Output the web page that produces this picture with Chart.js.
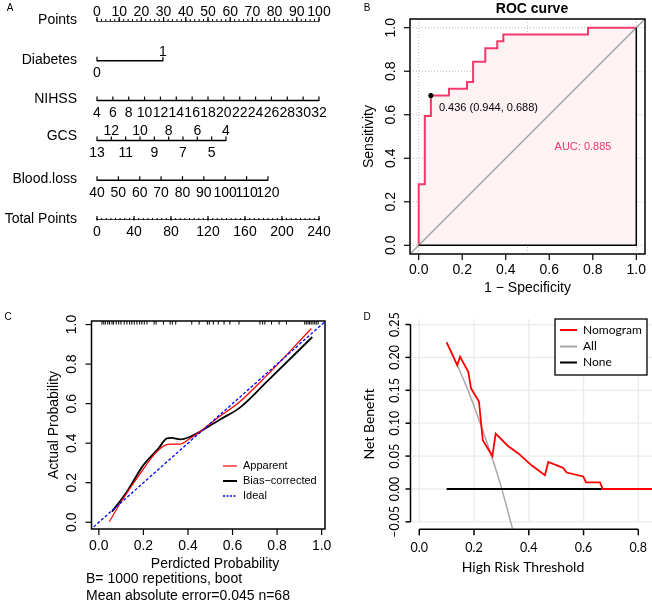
<!DOCTYPE html>
<html>
<head>
<meta charset="utf-8">
<title>Nomogram, ROC, calibration and decision curve</title>
<script src="https://cdn.jsdelivr.net/npm/chart.js@4.4.1/dist/chart.umd.min.js"></script>
<style>
  body { margin: 0; background: #fff; }
  #fig { position: relative; width: 652px; height: 607px; }
  #fig canvas { position: absolute; left: 0; top: 0; }
</style>
</head>
<body>
<div id="fig">
  <canvas id="cA" width="652" height="607"></canvas>
  <canvas id="cB" width="652" height="607"></canvas>
  <canvas id="cC" width="652" height="607"></canvas>
  <canvas id="cD" width="652" height="607"></canvas>
</div>
<script>
// ---------- A: nomogram ----------
var pointsTicks = [0, 10, 20, 30, 40, 50, 60, 70, 80, 90, 100];
var diabetesLevels = ['0', '1'];
var diabetesPoints = [0, 29.7];
var nihssTicks = [4, 6, 8, 10, 12, 14, 16, 18, 20, 22, 24, 26, 28, 30, 32];
var nihssPoints = [0, 100];
var gcsTicks = [13, 12, 11, 10, 9, 8, 7, 6, 5, 4];
var gcsPoints = [0, 58.1];
var bloodTicks = [40, 50, 60, 70, 80, 90, 100, 110, 120];
var bloodPoints = [0, 77];
var totalTicks = [0, 40, 80, 120, 160, 200, 240];
var totalPoints = [0, 100];

// ---------- B: ROC ----------
var rocFpr = [0, 0, 0.028, 0.028, 0.056, 0.056, 0.139, 0.139, 0.222, 0.222, 0.25, 0.25, 0.306, 0.306, 0.361, 0.361, 0.389, 0.389, 0.778, 0.778, 1];
var rocTpr = [0, 0.281, 0.281, 0.594, 0.594, 0.688, 0.688, 0.719, 0.719, 0.75, 0.75, 0.844, 0.844, 0.906, 0.906, 0.938, 0.938, 0.969, 0.969, 1, 1];
var bestThreshold = 0.436, bestSpec = 0.944, bestSens = 0.688;
var rocAuc = 0.885;

// ---------- C: calibration ----------
var apparentX = [0.047, 0.096, 0.186, 0.26, 0.298, 0.327, 0.365, 0.402, 0.454, 0.529, 0.63, 0.75, 0.954];
var apparentY = [0.003, 0.096, 0.247, 0.357, 0.39, 0.395, 0.395, 0.419, 0.458, 0.525, 0.607, 0.738, 0.98];
var biasX = [0.059, 0.126, 0.2, 0.268, 0.305, 0.327, 0.365, 0.409, 0.454, 0.544, 0.633, 0.753, 0.958];
var biasY = [0.054, 0.155, 0.289, 0.374, 0.424, 0.427, 0.419, 0.432, 0.458, 0.52, 0.58, 0.71, 0.937];
var rugX = [0.014, 0.022, 0.029, 0.040, 0.048, 0.059, 0.066, 0.078, 0.089, 0.099, 0.114, 0.126, 0.138, 0.148,
  0.159, 0.171, 0.183, 0.193, 0.204, 0.216, 0.248, 0.257, 0.290, 0.320, 0.330, 0.345, 0.417, 0.450, 0.487,
  0.496, 0.514, 0.536, 0.562, 0.588, 0.629, 0.723, 0.735, 0.745, 0.775, 0.809, 0.842, 0.924, 0.931, 0.939,
  0.946, 0.953, 0.961, 0.969, 0.976, 0.984];

// ---------- D: decision curve ----------
var nomoThr = [0.10, 0.139, 0.149, 0.179, 0.189, 0.218, 0.232, 0.267, 0.279, 0.325, 0.362, 0.41, 0.459, 0.471, 0.514, 0.526, 0.538, 0.599, 0.609, 0.66, 0.67, 0.99];
var nomoNB = [0.223, 0.188, 0.201, 0.178, 0.153, 0.133, 0.074, 0.050, 0.084, 0.065, 0.054, 0.036, 0.021, 0.041, 0.034, 0.032, 0.025, 0.019, 0.010, 0.010, 0, 0];
var allThr = [0.10, 0.139, 0.18, 0.22, 0.26, 0.30, 0.341];
var allNB = [0.223, 0.188, 0.148, 0.103, 0.055, 0.002, -0.061];
var noneThr = [0.10, 0.666];
var noneNB = [0, 0];

var AR = '"Liberation Sans", Arial, Helvetica, sans-serif';
var MY = 'Lato, "Open Sans", sans-serif';

function xy(xs, ys) { return xs.map(function (v, i) { return { x: v, y: ys[i] }; }); }
function seg(c, x1, y1, x2, y2, col, w, dash) {
  c.save(); c.strokeStyle = col; c.lineWidth = w; c.setLineDash(dash || []);
  c.beginPath(); c.moveTo(x1, y1); c.lineTo(x2, y2); c.stroke(); c.restore();
}
function txt(c, s, x, y, font, col, align, rot) {
  c.save(); c.translate(x, y); if (rot) c.rotate(rot);
  c.font = font; c.fillStyle = col || '#000'; c.textAlign = align || 'center'; c.textBaseline = 'middle';
  c.fillText(s, 0, 0); c.restore();
}
function opts(pad, xr, yr, rev) {
  return {
    responsive: false, animation: false, events: [],
    layout: { padding: pad },
    plugins: { legend: { display: false }, tooltip: { enabled: false } },
    scales: {
      x: { type: 'linear', min: xr[0], max: xr[1], display: false },
      y: { type: 'linear', min: yr[0], max: yr[1], display: false, reverse: !!rev }
    }
  };
}
function lineSet(data, col, w, extra) {
  var d = { data: data, showLine: true, borderColor: col, borderWidth: w, pointRadius: 0, fill: false };
  for (var k in extra) d[k] = extra[k];
  return d;
}
function toPts(v, ticks, pts) {
  var a = ticks[0], b = ticks[ticks.length - 1];
  return pts[0] + (v - a) / (b - a) * (pts[1] - pts[0]);
}

// ---------- panel A ----------
var nomoRows = [
  { name: 'Points', end: 100, ticks: pointsTicks.map(function (v) { return { lab: String(v), p: v, up: true }; }), minor: 2 },
  { name: 'Diabetes', end: diabetesPoints[1], ticks: diabetesLevels.map(function (v, i) { return { lab: v, p: diabetesPoints[i], up: i === 1 }; }) },
  { name: 'NIHSS', end: nihssPoints[1], ticks: nihssTicks.map(function (v) { return { lab: String(v), p: toPts(v, nihssTicks, nihssPoints), up: false }; }) },
  { name: 'GCS', end: gcsPoints[1], ticks: gcsTicks.map(function (v) { return { lab: String(v), p: toPts(v, gcsTicks, gcsPoints), up: v % 2 === 0 }; }), nameDy: -3 },
  { name: 'Blood.loss', end: bloodPoints[1], ticks: bloodTicks.map(function (v) { return { lab: String(v), p: toPts(v, bloodTicks, bloodPoints), up: false }; }) },
  { name: 'Total Points', end: 100, ticks: totalTicks.map(function (v) { return { lab: String(v), p: toPts(v, totalTicks, totalPoints), up: false }; }), minor: 100 / 48 }
];

var nomoPlugin = {
  id: 'nomo',
  afterDatasetsDraw: function (chart) {
    var c = chart.ctx, xs = chart.scales.x, ys = chart.scales.y;
    var f = '14px ' + AR;
    txt(c, 'A', 10, 8, '10px ' + AR);
    nomoRows.forEach(function (r, i) {
      var y = ys.getPixelForValue(i);
      txt(c, r.name, 77, y - 1 + (r.nameDy || 0), f, '#000', 'right');
      if (r.minor) {
        for (var p = 0; p <= r.end + 1e-6; p += r.minor) {
          var px = xs.getPixelForValue(p);
          seg(c, px, y, px, y - 2, '#000', 1);
        }
      }
      r.ticks.forEach(function (t) {
        var px = xs.getPixelForValue(t.p);
        seg(c, px, y + 0.5, px, y - 4, '#000', 1.2);
        txt(c, t.lab, px, t.up ? y - 9 : y + 12.5, f);
      });
    });
  }
};

new Chart(document.getElementById('cA'), {
  type: 'scatter',
  data: {
    datasets: nomoRows.map(function (r, i) {
      return lineSet([{ x: 0, y: i }, { x: r.end, y: i }], '#000', 1.5);
    })
  },
  options: opts({ left: 97, right: 333, top: 21, bottom: 387 }, [0, 100], [0, 5], true),
  plugins: [nomoPlugin]
});

// ---------- panel B ----------
var rocPlugin = {
  id: 'roc',
  beforeDatasetsDraw: function (chart) {
    var c = chart.ctx, a = chart.chartArea, xs = chart.scales.x, ys = chart.scales.y;
    [0, 0.2, 0.4, 0.6, 0.8, 1].forEach(function (v) {
      var py = ys.getPixelForValue(v);
      seg(c, a.left, py, a.right, py, '#bdbdbd', 1, [1, 2]);
    });
    [0, 0.5, 1].forEach(function (v) {
      var px = xs.getPixelForValue(v);
      seg(c, px, a.top, px, a.bottom, '#bdbdbd', 1, [1, 2]);
    });
  },
  afterDatasetsDraw: function (chart) {
    var c = chart.ctx, a = chart.chartArea, xs = chart.scales.x, ys = chart.scales.y;
    var f = '14px ' + AR;
    c.save(); c.strokeStyle = '#000'; c.lineWidth = 1.5;
    c.strokeRect(a.left, a.top, a.right - a.left, a.bottom - a.top); c.restore();
    [0, 0.2, 0.4, 0.6, 0.8, 1].forEach(function (v) {
      var px = xs.getPixelForValue(v), py = ys.getPixelForValue(v);
      seg(c, px, a.bottom, px, a.bottom + 6, '#000', 1.2);
      txt(c, v.toFixed(1), px, 270, f);
      seg(c, a.left, py, a.left - 6, py, '#000', 1.2);
      txt(c, v.toFixed(1), 391, py, f, '#000', 'center', -Math.PI / 2);
    });
    txt(c, 'Sensitivity', 369, (a.top + a.bottom) / 2, f, '#000', 'center', -Math.PI / 2);
    txt(c, '1 \u2212 Specificity', (a.left + a.right) / 2, 288, f);
    txt(c, 'ROC curve', 532, 9.5, 'bold 14px ' + AR);
    txt(c, 'B', 367, 8, '10px ' + AR);
    var tx = xs.getPixelForValue(1 - bestSpec), ty = ys.getPixelForValue(bestSens);
    txt(c, bestThreshold.toFixed(3) + ' (' + bestSpec.toFixed(3) + ', ' + bestSens.toFixed(3) + ')', tx + 8, ty + 12, '11px ' + AR, '#000', 'left');
    txt(c, 'AUC: ' + rocAuc.toFixed(3), xs.getPixelForValue(0.755), ys.getPixelForValue(0.453), '11px ' + AR, '#f5386b');
  }
};

new Chart(document.getElementById('cB'), {
  type: 'scatter',
  data: {
    datasets: [
      { data: [{ x: 1 - bestSpec, y: bestSens }], pointRadius: 2.2, backgroundColor: '#000', borderColor: '#000', order: 0 },
      lineSet([{ x: 0, y: 0 }, { x: 1, y: 0 }, { x: 1, y: 1 }], '#000', 1.5, { order: 1 }),
      lineSet([{ x: -0.04, y: -0.04 }, { x: 1.04, y: 1.04 }], '#a3a3a3', 1.5, { order: 2 }),
      lineSet(xy(rocFpr, rocTpr), '#f5386b', 2, { order: 3, fill: 'origin', backgroundColor: '#fdf3f4' })
    ]
  },
  options: opts({ left: 410, right: 7, top: 19, bottom: 353 }, [-0.04, 1.04], [-0.04, 1.04]),
  plugins: [rocPlugin]
});

// ---------- panel C ----------
var calPlugin = {
  id: 'cal',
  afterDatasetsDraw: function (chart) {
    var c = chart.ctx, a = chart.chartArea, xs = chart.scales.x, ys = chart.scales.y;
    var f = '14px ' + AR;
    c.save(); c.strokeStyle = '#000'; c.lineWidth = 1.5;
    c.strokeRect(a.left, a.top, a.right - a.left, a.bottom - a.top); c.restore();
    [0, 0.2, 0.4, 0.6, 0.8, 1].forEach(function (v) {
      var px = xs.getPixelForValue(v), py = ys.getPixelForValue(v);
      seg(c, px, a.bottom, px, a.bottom + 6, '#000', 1.2);
      txt(c, v.toFixed(1), px, 546.5, f);
      seg(c, a.left, py, a.left - 6, py, '#000', 1.2);
      txt(c, v.toFixed(1), 72.5, py, f, '#000', 'center', -Math.PI / 2);
    });
    txt(c, 'Actual Probability', 54, (a.top + a.bottom) / 2, f, '#000', 'center', -Math.PI / 2);
    txt(c, 'Perdicted Probability', 215, 564, f);
    txt(c, 'B= 1000 repetitions, boot', 86, 579.5, f, '#000', 'left');
    txt(c, 'Mean absolute error=0.045 n=68', 86, 596, f, '#000', 'left');
    txt(c, 'C', 8, 317, '10px ' + AR);
    var lf = '11px ' + AR;
    seg(c, 223, 466, 237, 466, '#ff0000', 1.2);
    seg(c, 223, 481, 237, 481, '#000', 2);
    seg(c, 223, 496, 237, 496, '#0000ff', 1.3, [2, 1.5]);
    txt(c, 'Apparent', 243, 466, lf, '#000', 'left');
    txt(c, 'Bias\u2212corrected', 243, 481, lf, '#000', 'left');
    txt(c, 'Ideal', 243, 496, lf, '#000', 'left');
  }
};

new Chart(document.getElementById('cC'), {
  type: 'scatter',
  data: {
    datasets: [
      { data: rugX.map(function (v) { return { x: v, y: 1.01 }; }), pointStyle: 'line', rotation: 90, pointRadius: 2, borderColor: '#000', borderWidth: 1, order: 0 },
      lineSet([{ x: -0.04, y: -0.04 }, { x: 1.02, y: 1.02 }], '#0000ff', 1.3, { borderDash: [3, 2], order: 1 }),
      lineSet(xy(apparentX, apparentY), '#ff0000', 1.2, { order: 2, cubicInterpolationMode: 'monotone' }),
      lineSet(xy(biasX, biasY), '#000', 1.8, { order: 3, cubicInterpolationMode: 'monotone' })
    ]
  },
  options: opts({ left: 91.5, right: 327, top: 321, bottom: 78 }, [-0.033, 1.015], [-0.034, 1.018]),
  plugins: [calPlugin]
});

// ---------- panel D ----------
var dcaPlugin = {
  id: 'dca',
  beforeDatasetsDraw: function (chart) {
    var c = chart.ctx, a = chart.chartArea, xs = chart.scales.x, ys = chart.scales.y;
    [-0.05, 0, 0.05, 0.1, 0.15, 0.2, 0.25].forEach(function (v) {
      var py = ys.getPixelForValue(v);
      seg(c, a.left, py, a.right, py, '#ebebeb', 1.3);
    });
    [0, 0.2, 0.4, 0.6, 0.8].forEach(function (v) {
      var px = xs.getPixelForValue(v);
      seg(c, px, a.top, px, ys.getPixelForValue(-0.05), '#ebebeb', 1.3);
    });
  },
  afterDatasetsDraw: function (chart) {
    var c = chart.ctx, a = chart.chartArea, xs = chart.scales.x, ys = chart.scales.y;
    var f = '14px ' + MY, tf = '12.5px ' + MY;
    var yt = [-0.05, 0, 0.05, 0.1, 0.15, 0.2, 0.25], xt = [0, 0.2, 0.4, 0.6, 0.8];
    seg(c, a.left, ys.getPixelForValue(0.25), a.left, ys.getPixelForValue(-0.05), '#000', 1.5);
    yt.forEach(function (v) {
      var py = ys.getPixelForValue(v);
      seg(c, a.left, py, a.left - 5, py, '#000', 1.5);
      txt(c, (v < 0 ? '\u2013' : '') + Math.abs(v).toFixed(2), 395, py, tf, '#000', 'center', -Math.PI / 2);
    });
    seg(c, xs.getPixelForValue(0), a.bottom, xs.getPixelForValue(0.8), a.bottom, '#000', 1.5);
    xt.forEach(function (v) {
      var px = xs.getPixelForValue(v);
      seg(c, px, a.bottom, px, a.bottom + 6, '#000', 1.5);
      txt(c, v.toFixed(1), px, 548, tf);
    });
    txt(c, 'Net Benefit', 369, 424, f, '#000', 'center', -Math.PI / 2);
    txt(c, 'High Risk Threshold', 523, 567, f);
    txt(c, 'D', 367, 317, '10px ' + AR);
    c.save(); c.fillStyle = '#fff'; c.fillRect(555, 319, 92, 56);
    c.strokeStyle = '#000'; c.lineWidth = 1.3; c.strokeRect(555, 319, 92, 56); c.restore();
    var lf = '12px ' + MY;
    seg(c, 560, 330, 577, 330, '#ff0000', 2);
    seg(c, 560, 346.5, 577, 346.5, '#a8a8a8', 2);
    seg(c, 560, 362.5, 577, 362.5, '#000', 2);
    txt(c, 'Nomogram', 583, 330, lf, '#000', 'left');
    txt(c, 'All', 583, 346.5, lf, '#000', 'left');
    txt(c, 'None', 583, 362.5, lf, '#000', 'left');
  }
};

new Chart(document.getElementById('cD'), {
  type: 'scatter',
  data: {
    datasets: [
      lineSet(xy(nomoThr, nomoNB), '#ff0000', 1.8, { order: 0 }),
      lineSet(xy(noneThr, noneNB), '#000', 2, { order: 1 }),
      lineSet(xy(allThr, allNB), '#a8a8a8', 1.5, { order: 2, cubicInterpolationMode: 'monotone' })
    ]
  },
  options: opts({ left: 410.5, right: 0, top: 319, bottom: 77.7 }, [-0.032, 0.85], [-0.0613, 0.2584]),
  plugins: [dcaPlugin]
});
</script>
</body>
</html>
